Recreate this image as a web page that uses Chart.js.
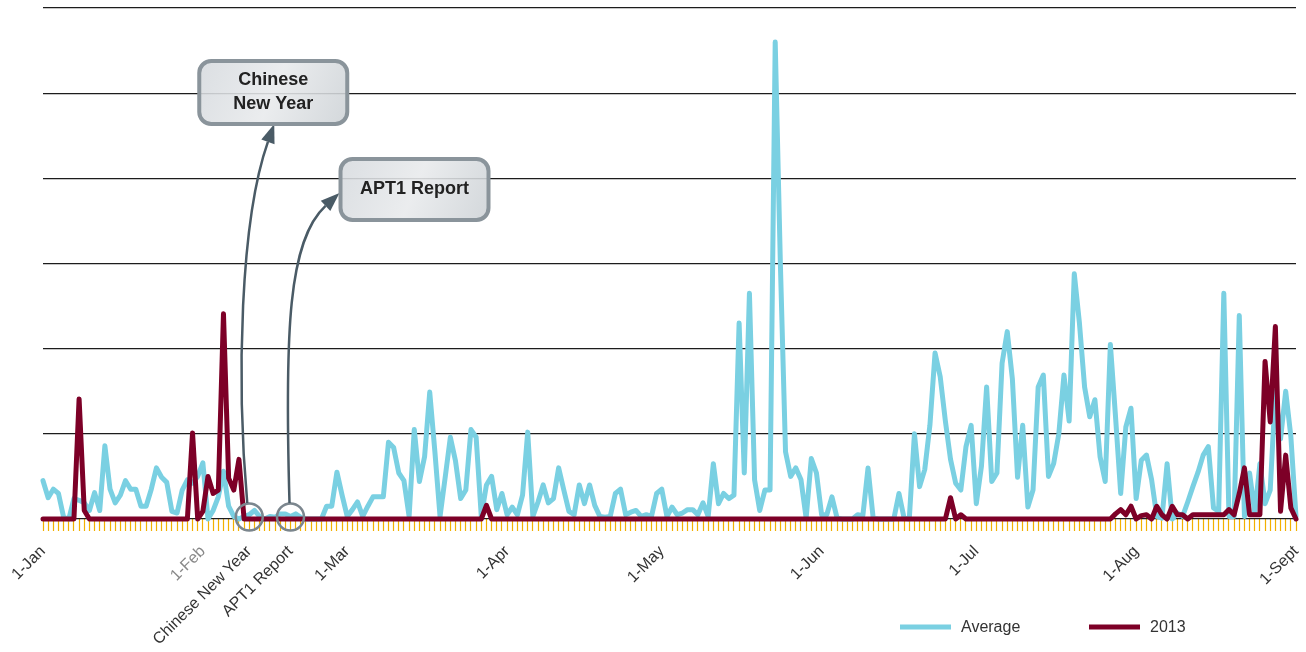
<!DOCTYPE html>
<html>
<head>
<meta charset="utf-8">
<script src="https://cdn.jsdelivr.net/npm/chart.js@4.4.1/dist/chart.umd.min.js"></script>
<style>
  html, body { margin: 0; padding: 0; background: #fff; }
  #wrap { width: 1306px; height: 652px; }
</style>
</head>
<body>
<div id="wrap"><canvas id="chart" width="1306" height="652"></canvas></div>
<script>
// jours du 1-Jan au 1-Sept
const monthNames = ['Jan', 'Feb', 'Mar', 'Apr', 'May', 'Jun', 'Jul', 'Aug', 'Sept'];
const monthDays = [31, 28, 31, 30, 31, 30, 31, 31, 1];
const days = [];
monthNames.forEach((m, k) => {
    for (let d = 1; d <= monthDays[k]; d++) days.push(d + '-' + m);
});

// étiquettes visibles sur l'axe x
const tickIndex = [0, 31, 40, 48, 59, 90, 120, 151, 181, 212, 243];
const tickText = ['1-Jan', '1-Feb', 'Chinese New Year', 'APT1 Report', '1-Mar', '1-Apr', '1-May', '1-Jun', '1-Jul', '1-Aug', '1-Sept'];

// évènements annotés
const eventIndex = [40, 48];
const eventText = [['Chinese', 'New Year'], ['APT1 Report']];

const seriesNames = ['Average', '2013'];
const seriesColors = ['#7ad0e2', '#7d0027'];

const averageValues = [
    4.5, 2.5, 3.5, 3.0, 0.2, 0, 2.4, 2.2, 1.9, 1.0,
    3.1, 1.0, 8.6, 3.5, 1.9, 2.8, 4.5, 3.5, 3.5, 1.5,
    1.5, 3.5, 6.0, 4.9, 4.3, 0.9, 0.7, 3.4, 4.6, 4.2,
    5.0, 6.6, 0, 1.0, 2.6, 5.6, 1.5, 0.3, 0, 0.3,
    0.5, 1.0, 0.3, 0, 0.3, 0.2, 0.6, 0.6, 0.3, 0.6,
    0.2, 0, 0, 0, 0, 1.5, 1.5, 5.5, 2.8, 0.3,
    1.1, 2.0, 0.3, 1.5, 2.6, 2.6, 2.6, 9.0, 8.4, 5.4,
    4.5, 0.3, 10.5, 4.4, 7.3, 14.9, 7.9, 0.3, 4.9, 9.6,
    6.8, 2.4, 3.4, 10.5, 9.6, 0.3, 4.0, 5.0, 1.1, 3.0,
    0.5, 1.4, 0.5, 2.8, 10.2, 0.3, 2.0, 4.0, 1.9, 2.4,
    6.0, 3.4, 0.9, 0.5, 4.0, 1.8, 4.0, 1.6, 0.3, 0.2,
    0.3, 3.0, 3.5, 0.5, 0.8, 1.0, 0.3, 0.5, 0.3, 3.0,
    3.5, 0.3, 1.4, 0.5, 0.7, 1.1, 1.1, 0.5, 1.9, 0.3,
    6.5, 1.8, 3.0, 2.4, 2.8, 23.0, 5.4, 26.5, 4.6, 1.0,
    3.4, 3.4, 56.0, 30.0, 7.9, 5.0, 6.0, 4.6, 0.1, 7.1,
    5.4, 0.5, 0.5, 2.6, 0.1, 0, 0, 0, 0.5, 0.4,
    6.0, 0.1, 0, 0, 0, 0, 3.0, 0.1, 0, 10.0,
    3.8, 5.8, 11.0, 19.5, 16.7, 11.5, 7.0, 4.2, 3.4, 8.5,
    11.0, 1.8, 6.2, 15.5, 4.4, 5.4, 18.3, 22.0, 16.4, 4.9,
    11.0, 1.4, 3.4, 15.5, 16.9, 5.0, 6.5, 10.0, 16.9, 11.5,
    28.8, 23.0, 15.5, 12.0, 14.0, 7.3, 4.4, 20.5, 12.0, 3.0,
    10.8, 13.0, 2.4, 6.9, 7.5, 4.6, 0.3, 0.1, 6.5, 0,
    0.7, 0.3, 2.0, 3.8, 5.5, 7.5, 8.5, 1.3, 0.9, 26.5,
    0.3, 0.3, 23.9, 0.3, 5.4, 0.7, 6.5, 1.8, 3.4, 15.0,
    9.4, 15.0, 9.7, 0.3
];

const values2013 = [
    0, 0, 0, 0, 0, 0, 0, 14.1, 1.0, 0,
    0, 0, 0, 0, 0, 0, 0, 0, 0, 0,
    0, 0, 0, 0, 0, 0, 0, 0, 0, 10.1,
    0, 0.9, 5.0, 3.0, 3.4, 24.1, 4.8, 3.4, 7.0, 0,
    0, 0, 0, 0, 0, 0, 0, 0, 0, 0,
    0, 0, 0, 0, 0, 0, 0, 0, 0, 0,
    0, 0, 0, 0, 0, 0, 0, 0, 0, 0,
    0, 0, 0, 0, 0, 0, 0, 0, 0, 0,
    0, 0, 0, 0, 0, 0, 1.6, 0, 0, 0,
    0, 0, 0, 0, 0, 0, 0, 0, 0, 0,
    0, 0, 0, 0, 0, 0, 0, 0, 0, 0,
    0, 0, 0, 0, 0, 0, 0, 0, 0, 0,
    0, 0, 0, 0, 0, 0, 0, 0, 0, 0,
    0, 0, 0, 0, 0, 0, 0, 0, 0, 0,
    0, 0, 0, 0, 0, 0, 0, 0, 0, 0,
    0, 0, 0, 0, 0, 0, 0, 0, 0, 0,
    0, 0, 0, 0, 0, 0, 0, 0, 0, 0,
    0, 0, 0, 0, 0, 0, 2.5, 0, 0.5, 0,
    0, 0, 0, 0, 0, 0, 0, 0, 0, 0,
    0, 0, 0, 0, 0, 0, 0, 0, 0, 0,
    0, 0, 0, 0, 0, 0, 0, 0, 0.6, 1.1,
    0.5, 1.5, 0, 0.4, 0.5, 0, 1.5, 0.5, 0, 1.5,
    0.5, 0.5, 0, 0.5, 0.5, 0.5, 0.5, 0.5, 0.5, 0.5,
    1.1, 0.5, 3.0, 6.0, 0.5, 0.5, 0.5, 18.5, 11.4, 22.6,
    0.9, 7.5, 1.3, 0
];

const fontFamily = '"Liberation Sans", Arial, sans-serif';

// Fonction pour dessiner une flèche courbe avec sa pointe
function drawArrow(ctx, p0, p1, p2, p3) {
    ctx.save();
    ctx.strokeStyle = '#4a5b66';
    ctx.fillStyle = '#4a5b66';
    ctx.lineWidth = 2.5;
    const ang = Math.atan2(p3[1] - p2[1], p3[0] - p2[0]);
    const len = 19, half = 7;
    const bx = p3[0] - Math.cos(ang) * len, by = p3[1] - Math.sin(ang) * len;
    ctx.beginPath();
    ctx.moveTo(p0[0], p0[1]);
    ctx.bezierCurveTo(p1[0], p1[1], p2[0], p2[1], bx, by);
    ctx.stroke();
    ctx.beginPath();
    ctx.moveTo(p3[0], p3[1]);
    ctx.lineTo(bx + Math.sin(ang) * half, by - Math.cos(ang) * half);
    ctx.lineTo(bx - Math.sin(ang) * half, by + Math.cos(ang) * half);
    ctx.closePath();
    ctx.fill();
    ctx.restore();
}

// Fonction pour dessiner une boîte arrondie avec du texte
function drawBox(ctx, left, top, w, h, lines) {
    ctx.save();
    const r = 12;
    ctx.beginPath();
    ctx.roundRect(left, top, w, h, r);
    const g = ctx.createLinearGradient(left, top, left + w, top + h);
    g.addColorStop(0, 'rgba(214,218,222,0.88)');
    g.addColorStop(0.5, 'rgba(232,234,236,0.88)');
    g.addColorStop(1, 'rgba(205,210,214,0.88)');
    ctx.fillStyle = g;
    ctx.fill();
    ctx.lineWidth = 4;
    ctx.strokeStyle = '#8a949b';
    ctx.stroke();
    ctx.fillStyle = '#222';
    ctx.font = 'bold 18px ' + fontFamily;
    ctx.textAlign = 'center';
    ctx.textBaseline = 'middle';
    const cx = left + w / 2, lh = 24;
    const y0 = top + h / 2 - (lines.length - 1) * lh / 2;
    lines.forEach((t, i) => ctx.fillText(t, cx, y0 + i * lh));
    ctx.restore();
}

const eventsPlugin = {
    id: 'events',
    afterDatasetsDraw(chart) {
        const ctx = chart.ctx;
        const x = chart.scales.x, y = chart.scales.y;
        const base = y.getPixelForValue(0);
        const c0 = x.getPixelForValue(eventIndex[0]);
        const c1 = x.getPixelForValue(eventIndex[1]);

        // cercles sur la ligne de base
        ctx.save();
        ctx.strokeStyle = '#7b868e';
        ctx.lineWidth = 2.5;
        [c0, c1].forEach(cx => {
            ctx.beginPath();
            ctx.arc(cx, base - 2, 13.5, 0, Math.PI * 2);
            ctx.stroke();
        });
        ctx.restore();

        // flèches vers les boîtes
        drawArrow(ctx, [c0 - 2, base - 16], [c0 - 13, 380], [c0 - 9, 220], [c0 + 25, 124]);
        drawArrow(ctx, [c1 - 1, base - 16], [c1 - 6, 330], [c1 - 2, 240], [c1 + 49, 193]);

        drawBox(ctx, c0 - 50, 61, 148, 63, eventText[0]);
        drawBox(ctx, c1 + 50, 159, 148, 61, eventText[1]);
    },
    afterDraw(chart) {
        // légende en bas à droite
        const ctx = chart.ctx;
        const items = [[900, 0], [1089, 1]];
        ctx.save();
        ctx.font = '16px ' + fontFamily;
        ctx.textBaseline = 'middle';
        items.forEach(([lx, k]) => {
            ctx.strokeStyle = seriesColors[k];
            ctx.lineWidth = 5;
            ctx.beginPath();
            ctx.moveTo(lx, 627);
            ctx.lineTo(lx + 51, 627);
            ctx.stroke();
            ctx.fillStyle = '#333';
            ctx.fillText(seriesNames[k], lx + 61, 628);
        });
        ctx.restore();
    }
};

window.onload = function() {
    const ctx = document.getElementById('chart').getContext('2d');
    new Chart(ctx, {
        type: 'line',
        data: {
            labels: days,
            datasets: [{
                label: seriesNames[0],
                data: averageValues,
                borderColor: seriesColors[0],
                borderWidth: 5,
                order: 2
            }, {
                label: seriesNames[1],
                data: values2013,
                borderColor: seriesColors[1],
                borderWidth: 5,
                order: 1
            }]
        },
        options: {
            responsive: false,
            animation: false,
            devicePixelRatio: 1,
            layout: { padding: { top: 8, right: 10, left: 0, bottom: 0 } },
            elements: {
                point: { radius: 0 },
                line: { tension: 0, borderJoinStyle: 'round', borderCapStyle: 'round', fill: false }
            },
            datasets: { line: { clip: false } },
            plugins: { legend: { display: false }, tooltip: { enabled: false } },
            scales: {
                x: {
                    offset: false,
                    grid: {
                        drawOnChartArea: false,
                        drawTicks: true,
                        tickLength: 12,
                        tickColor: '#f2b000',
                        tickWidth: 1.2
                    },
                    border: { display: false },
                    ticks: {
                        autoSkip: false,
                        minRotation: 45,
                        maxRotation: 45,
                        padding: 11,
                        font: { family: fontFamily, size: 16 },
                        color: c => (c.index === 31 ? '#888' : '#333'),
                        callback: (v, i) => {
                            const k = tickIndex.indexOf(i);
                            return k < 0 ? '' : tickText[k];
                        }
                    },
                    afterFit: s => {
                        s.height = 133;
                        s.paddingLeft = 0;
                        s.paddingRight = 0;
                    }
                },
                y: {
                    min: 0,
                    max: 60,
                    ticks: { display: false, stepSize: 10 },
                    grid: { color: '#1c1c1c', lineWidth: 1.3, drawTicks: false },
                    border: { display: false },
                    afterFit: s => { s.width = 43; }
                }
            }
        },
        plugins: [eventsPlugin]
    });
};
</script>
</body>
</html>
